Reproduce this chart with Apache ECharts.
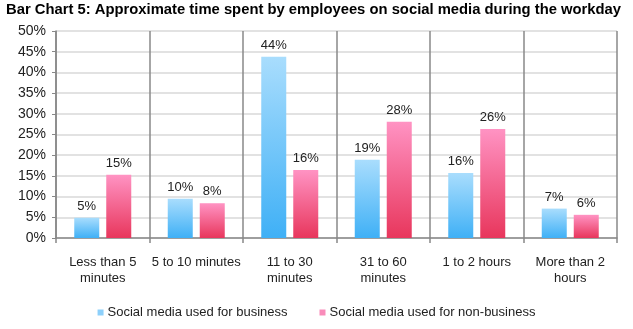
<!DOCTYPE html>
<html>
<head>
<meta charset="utf-8">
<script src="https://cdn.jsdelivr.net/npm/echarts@6/dist/echarts.min.js"></script>
<style>
  html, body { margin: 0; padding: 0; background: #fff; }
  #chart { width: 633px; height: 329px; }
</style>
</head>
<body>
<div id="chart"></div>
<script>
const titleText = 'Bar Chart 5: Approximate time spent by employees on social media during the workday';
const categories = ['Less than 5\nminutes', '5 to 10 minutes', '11 to 30\nminutes', '31 to 60\nminutes', '1 to 2 hours', 'More than 2\nhours'];
const businessName = 'Social media used for business';
const nonBusinessName = 'Social media used for non-business';
const businessValues = [4.9, 9.5, 43.8, 18.9, 15.7, 7.1];
const nonBusinessValues = [15.3, 8.4, 16.4, 28.1, 26.3, 5.6];
const yTicks = [0, 5, 10, 15, 20, 25, 30, 35, 40, 45, 50];

const FONT = '"Liberation Sans", Arial, sans-serif';

function grad(top, bottom) {
  return new echarts.graphic.LinearGradient(0, 0, 0, 1, [
    { offset: 0, color: top },
    { offset: 1, color: bottom }
  ]);
}

const chart = echarts.init(document.getElementById('chart'), null, { renderer: 'canvas' });
const labelOpt = {
  show: true,
  position: 'top',
  distance: 5,
  fontFamily: FONT,
  fontSize: 13,
  color: '#222',
  formatter: p => Math.round(p.value) + '%'
};
chart.setOption({
  animation: false,
  title: {
    text: titleText,
    left: 1,
    top: -3,
    textStyle: { fontFamily: FONT, fontSize: 14.8, fontWeight: 'bold', color: '#000' }
  },
  grid: { left: 56, right: 16, top: 31, bottom: 91, containLabel: false },
  legend: {
    bottom: 5,
    left: 'center',
    itemWidth: 6,
    itemHeight: 6,
    itemGap: 32,
    icon: 'rect',
    textStyle: { fontFamily: FONT, fontSize: 13, color: '#222', padding: [0, 0, 0, -1] },
    data: [
      { name: businessName, itemStyle: { color: '#8dd0fb' } },
      { name: nonBusinessName, itemStyle: { color: '#f98cba' } }
    ]
  },
  xAxis: {
    type: 'category',
    data: categories,
    axisLine: { show: true, lineStyle: { color: '#888', width: 1.5 } },
    axisTick: { show: true, length: 5, alignWithLabel: false, lineStyle: { color: '#888', width: 1.5 } },
    splitLine: { show: true, lineStyle: { color: '#888', width: 1.5 } },
    axisLabel: { fontFamily: FONT, fontSize: 13, color: '#222', margin: 16, lineHeight: 16, interval: 0 }
  },
  yAxis: {
    type: 'value',
    min: 0,
    max: 50,
    interval: 5,
    axisLine: { show: true, lineStyle: { color: '#888', width: 1.5 } },
    axisTick: { show: true, length: 4, lineStyle: { color: '#888', width: 1 } },
    splitLine: { show: true, lineStyle: { color: '#d9d9d9', width: 1.5 } },
    axisLabel: {
      fontFamily: FONT, fontSize: 14, color: '#222', margin: 10,
      formatter: v => (yTicks.indexOf(v) >= 0 ? v + '%' : '')
    }
  },
  series: [
    {
      name: businessName,
      type: 'bar',
      data: businessValues,
      barWidth: 25,
      barGap: '28%',
      itemStyle: { color: grad('#a9ddfd', '#3fb0f6') },
      label: labelOpt
    },
    {
      name: nonBusinessName,
      type: 'bar',
      data: nonBusinessValues,
      barWidth: 25,
      itemStyle: { color: grad('#ff93c3', '#e8365c') },
      label: labelOpt
    }
  ]
});
</script>
</body>
</html>
